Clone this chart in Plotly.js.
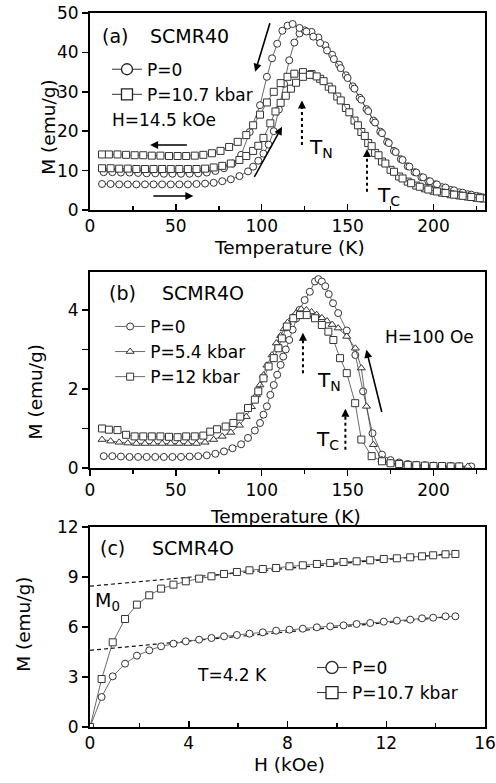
<!DOCTYPE html>
<html>
<head>
<meta charset="utf-8">
<script src="https://cdn.plot.ly/plotly-3.0.1.min.js"></script>
<style>html,body{margin:0;padding:0;background:#fff;}#chart{width:496px;height:783px;}</style>
</head>
<body>
<div id="chart"></div>
<script>
// ---------- Panel (a): SCMR40, H=14.5 kOe ----------
const aP0WarmT = [7,12,17,22,27,32,37,42,47,52,57,62,67,72,77,82,87,92,95,98,101,104,107,110,113,116,119,122,125,129,133,137,141,145,149,153,157,161,165,169,173,177,181,185,189,193,197,201,205,210,215,220,225,229];
const aP0WarmM = [6.6,6.6,6.5,6.5,6.5,6.5,6.5,6.5,6.5,6.5,6.5,6.6,6.7,6.9,7.3,7.8,8.6,9.8,11.0,12.5,14.3,16.6,20.0,25.5,32.0,38.0,42.5,44.8,45.6,45.2,43.8,41.8,39.4,36.9,34.2,31.4,28.5,25.6,22.7,19.9,17.3,15.0,12.9,11.1,9.6,8.3,7.3,6.5,5.8,5.1,4.5,4.0,3.6,3.2];
const aP0CoolT = [8,13,18,23,28,33,38,43,48,53,58,63,68,73,78,83,88,93,99,103,106,109,112,115,118,122,126,130,134,138,142,146,150,154,158,162,166,170,174,178,182,186,190,194,198,202,207,212,217,222,227];
const aP0CoolM = [9.6,9.6,9.5,9.5,9.4,9.3,9.3,9.2,9.2,9.2,9.2,9.3,9.5,9.9,10.6,11.8,14.0,19.8,26.6,33.8,38.5,42.2,45.5,46.8,47.2,46.2,45.3,44.0,42.4,40.5,38.3,36.0,33.5,30.8,28.0,25.1,22.2,19.5,17.0,14.7,12.7,11.0,9.5,8.3,7.3,6.5,5.7,5.0,4.4,3.9,3.4];
const aP107CoolT = [7,11,16,21,26,31,36,41,46,51,56,61,66,71,76,81,86,91,95,99,103,107,111,115,119,124,129,134,139,144,149,154,158,162,166,170,175,180,185,190,195,200,205,210,215,220,225,229];
const aP107CoolM = [14.1,14.1,14.1,14.0,13.9,13.9,13.8,13.8,13.7,13.7,13.7,13.8,14.0,14.4,15.0,16.0,17.3,19.0,21.5,24.2,27.3,30.0,32.2,33.8,34.6,35.0,34.5,33.3,31.3,28.8,25.9,22.7,19.8,17.0,14.5,12.3,10.2,8.5,7.2,6.2,5.5,4.9,4.4,4.0,3.7,3.4,3.1,2.9];
const aP107WarmT = [7,12,17,22,27,32,37,42,47,52,57,62,67,72,77,82,87,91,95,98,101,105,108,111,114,117,120,124,128,132,136,141,146,151,156,160,164,168,172,177,182,187,192,197,202,207,212,217,222,227];
const aP107WarmM = [10.6,10.6,10.5,10.5,10.4,10.4,10.4,10.4,10.4,10.4,10.4,10.4,10.5,10.8,11.2,11.8,12.7,13.7,15.0,16.3,18.3,22.0,25.0,27.2,29.0,30.8,32.3,33.8,34.3,33.9,32.7,30.6,27.8,24.8,21.5,18.8,16.2,13.9,11.8,9.7,8.0,6.8,5.9,5.2,4.7,4.3,3.9,3.6,3.3,3.0];

// ---------- Panel (b): SCMR4O, H=100 Oe ----------
const bP0T = [8,13,18,23,28,33,38,43,48,53,58,63,68,73,78,83,88,92,96,99,101,103,105,107,109,111,112.5,114,116,118,120,122,125,128,131,133,135,137,139,141.5,144.5,149.5,154.5,159,164.5,170,175,180,185,190,195,200,205,210,215,222];
const bP0M = [0.3,0.3,0.29,0.28,0.28,0.28,0.28,0.28,0.28,0.28,0.29,0.3,0.32,0.36,0.42,0.5,0.6,0.76,0.95,1.14,1.35,1.56,1.85,2.1,2.36,2.61,2.82,3.0,3.24,3.5,3.78,4.0,4.25,4.46,4.72,4.78,4.72,4.6,4.4,4.17,3.92,3.48,2.86,1.94,0.88,0.34,0.2,0.14,0.1,0.08,0.07,0.06,0.05,0.05,0.04,0.04];
const bP54T = [7,12,17,22,27,32,37,42,47,52,57,62,67,72,77,82,87,91,94,97,99,101,103,106,108.5,111,113,115,118,120,123,126,129,132,135,138,141,144.5,149.5,154.5,158,161,165,170,175,180,185,190,195,200,205,210,215,220];
const bP54M = [0.72,0.68,0.65,0.63,0.62,0.62,0.62,0.62,0.62,0.62,0.62,0.62,0.65,0.72,0.8,0.9,1.08,1.3,1.55,1.85,2.1,2.35,2.6,2.86,3.16,3.35,3.52,3.68,3.82,3.92,4.02,4.0,3.95,3.88,3.8,3.72,3.63,3.54,3.33,3.03,2.53,1.56,0.59,0.21,0.13,0.1,0.08,0.07,0.06,0.06,0.05,0.05,0.05,0.04];
const bP12T = [7,11,16,21,26,31,36,41,46,51,56,61,66,70,74,79,83.5,87.5,92,96,98,101,104,107,109.7,111.7,114.6,118.4,122.3,126.2,131,135,138.8,141.7,145.6,149.5,154.4,158,164,170,175,180,185,190,195,200,205,210,215];
const bP12M = [1.0,0.97,0.96,0.84,0.8,0.8,0.8,0.8,0.79,0.78,0.8,0.8,0.82,0.92,0.98,1.05,1.14,1.3,1.52,1.73,1.94,2.27,2.57,2.78,3.03,3.28,3.58,3.79,3.87,3.87,3.79,3.62,3.45,3.24,2.78,2.4,1.64,0.72,0.3,0.17,0.12,0.1,0.08,0.07,0.06,0.05,0.05,0.04,0.04];

// ---------- Panel (c): SCMR4O, T=4.2 K ----------
const cH = [0,0.47,0.92,1.42,1.9,2.4,2.88,3.38,3.88,4.42,4.92,5.43,5.95,6.46,7.0,7.54,8.08,8.62,9.19,9.73,10.27,10.8,11.35,11.9,12.43,12.97,13.45,13.9,14.4,14.8];
const cP0M = [0,1.8,3.04,3.8,4.28,4.6,4.84,5.0,5.14,5.24,5.34,5.44,5.52,5.6,5.68,5.78,5.84,5.9,5.98,6.04,6.1,6.18,6.24,6.32,6.38,6.44,6.52,6.56,6.64,6.64];
const cP107M = [0,2.88,5.08,6.48,7.34,7.9,8.3,8.54,8.74,8.9,9.04,9.18,9.3,9.4,9.48,9.54,9.64,9.7,9.78,9.84,9.9,9.94,10.0,10.08,10.12,10.18,10.24,10.3,10.36,10.38];
const cFitH = [0,14.8];
const cFitP0 = [4.6,6.65];
const cFitP107 = [8.45,10.42];

// ---------- styling ----------
const FONT = '"DejaVu Sans", sans-serif';
const LC = '#444';
function series(x, y, sym, size, xa, ya, extra) {
  return Object.assign({
    x: x, y: y, xaxis: xa, yaxis: ya, type: 'scatter', mode: 'lines+markers',
    line: {color: LC, width: 0.8},
    marker: {symbol: sym, size: size, color: '#fff', line: {color: '#333', width: 1}},
    showlegend: false, hoverinfo: 'skip'
  }, extra || {});
}
function legendItem(name, sym, size, leg, grp) {
  return {x: [null], y: [null], type: 'scatter', mode: 'lines+markers', name: name,
    xaxis: leg === 'legend' ? 'x' : 'x3', yaxis: leg === 'legend' ? 'y' : 'y3',
    legend: leg, legendgroup: grp, showlegend: true,
    line: {color: '#333', width: 1},
    marker: {symbol: sym, size: size, color: '#fff', line: {color: '#222', width: 1.3}}};
}

const traces = [
  series(aP0WarmT, aP0WarmM, 'circle', 7, 'x', 'y'),
  series(aP0CoolT, aP0CoolM, 'circle', 7, 'x', 'y'),
  series(aP107CoolT, aP107CoolM, 'square', 7, 'x', 'y'),
  series(aP107WarmT, aP107WarmM, 'square', 7, 'x', 'y'),
  legendItem('P=0', 'circle', 11, 'legend', 'a1'),
  legendItem('P=10.7 kbar', 'square', 11, 'legend', 'a2'),

  series(bP0T, bP0M, 'circle', 7, 'x2', 'y2', {showlegend: true, name: 'P=0', legend: 'legend2', legendgroup: 'b1'}),
  series(bP54T, bP54M, 'triangle-up', 7, 'x2', 'y2', {showlegend: true, name: 'P=5.4 kbar', legend: 'legend2', legendgroup: 'b2'}),
  series(bP12T, bP12M, 'square', 7, 'x2', 'y2', {showlegend: true, name: 'P=12 kbar', legend: 'legend2', legendgroup: 'b3'}),

  {x: cFitH, y: cFitP0, xaxis: 'x3', yaxis: 'y3', type: 'scatter', mode: 'lines', line: {color: '#111', width: 1.2, dash: '4px,3px'}, showlegend: false, hoverinfo: 'skip'},
  {x: cFitH, y: cFitP107, xaxis: 'x3', yaxis: 'y3', type: 'scatter', mode: 'lines', line: {color: '#111', width: 1.2, dash: '4px,3px'}, showlegend: false, hoverinfo: 'skip'},
  series(cH, cP0M, 'circle', 7, 'x3', 'y3'),
  series(cH, cP107M, 'square', 7, 'x3', 'y3'),
  legendItem('P=0', 'circle', 12, 'legend3', 'c1'),
  legendItem('P=10.7 kbar', 'square', 12, 'legend3', 'c2')
];

function xax(anchor, range, dtick, mdtick, tdir) {
  return {anchor: anchor, domain: [0, 1], range: range, dtick: dtick, tick0: 0,
    ticks: tdir, ticklen: 6, tickwidth: 1.5, tickcolor: '#000',
    minor: {dtick: mdtick, tick0: 0, ticks: tdir, ticklen: 4, tickwidth: 1.5, tickcolor: '#000'},
    showline: true, linewidth: 2, linecolor: '#000', mirror: true,
    showgrid: false, zeroline: false, tickfont: {family: FONT, size: 17, color: '#000'}};
}
function yax(anchor, domain, range, dtick, mdtick) {
  const o = {anchor: anchor, domain: domain, range: range, dtick: dtick, tick0: 0,
    ticks: 'outside', ticklen: 6, tickwidth: 1.5, tickcolor: '#000',
    showline: true, linewidth: 2, linecolor: '#000', mirror: true,
    showgrid: false, zeroline: false, tickfont: {family: FONT, size: 17, color: '#000'}};
  if (mdtick) o.minor = {dtick: mdtick, tick0: 0, ticks: 'outside', ticklen: 6, tickwidth: 1.5, tickcolor: '#000'};
  return o;
}

function txt(text, x, y, xref, yref, opts) {
  return Object.assign({text: text, x: x, y: y, xref: xref, yref: yref, showarrow: false,
    xanchor: 'left', yanchor: 'middle', font: {family: FONT, size: 18, color: '#000'}}, opts || {});
}
function arrow(x, y, ax, ay, xref, yref) {
  return {text: '', x: x, y: y, ax: ax, ay: ay, xref: xref, yref: yref, axref: xref, ayref: yref,
    showarrow: true, arrowhead: 2, arrowsize: 1, arrowwidth: 1.6, arrowcolor: '#000'};
}
function dotted(x, y0, y1, xref, yref) {
  return {type: 'line', x0: x, x1: x, y0: y0, y1: y1, xref: xref, yref: yref,
    line: {color: '#000', width: 2, dash: 'dot'}};
}

const annotations = [
  // axis titles
  txt('M (emu/g)', -0.104, 0.838, 'paper', 'paper', {textangle: -90, xanchor: 'center', font: {family: FONT, size: 18.5, color: '#000'}}),
  txt('Temperature (K)', 0.506, 0.6845, 'paper', 'paper', {xanchor: 'center', font: {family: FONT, size: 18.5, color: '#000'}}),
  txt('M (emu/g)', -0.139, 0.499, 'paper', 'paper', {textangle: -90, xanchor: 'center', font: {family: FONT, size: 18.5, color: '#000'}}),
  txt('Temperature (K)', 0.494, 0.340, 'paper', 'paper', {xanchor: 'center', font: {family: FONT, size: 18.5, color: '#000'}}),
  txt('M (emu/g)', -0.167, 0.202, 'paper', 'paper', {textangle: -90, xanchor: 'center', font: {family: FONT, size: 18.5, color: '#000'}}),
  txt('H (kOe)', 0.506, 0.023, 'paper', 'paper', {xanchor: 'center', font: {family: FONT, size: 18.5, color: '#000'}}),

  // panel (a)
  txt('(a)', 5.8, 44.2, 'x', 'y', {font: {family: FONT, size: 19, color: '#000'}}),
  txt('SCMR40', 33.8, 44.2, 'x', 'y', {font: {family: FONT, size: 19, color: '#000'}}),
  txt('H=14.5 kOe', 11.7, 22.8, 'x', 'y', {font: {family: FONT, size: 17, color: '#000'}}),
  txt('T<sub>N</sub>', 126.3, 15.8, 'x', 'y', {font: {family: FONT, size: 20, color: '#000'}}),
  txt('T<sub>C</sub>', 165.8, 3.6, 'x', 'y', {font: {family: FONT, size: 20, color: '#000'}}),
  arrow(96.2, 35.1, 105, 47.8, 'x', 'y'),
  arrow(111.8, 21.1, 95.2, 8, 'x', 'y'),
  arrow(35, 16.5, 57.3, 16.5, 'x', 'y'),
  arrow(60.2, 3.55, 36, 3.55, 'x', 'y'),
  arrow(123.4, 27.8, 123.4, 25.5, 'x', 'y'),
  arrow(161.3, 15.5, 161.3, 13.2, 'x', 'y'),

  // panel (b)
  txt('(b)', 9.9, 4.43, 'x2', 'y2', {font: {family: FONT, size: 19, color: '#000'}}),
  txt('SCMR4O', 40.8, 4.43, 'x2', 'y2', {font: {family: FONT, size: 19, color: '#000'}}),
  txt('H=100 Oe', 170.8, 3.32, 'x2', 'y2', {font: {family: FONT, size: 17, color: '#000'}}),
  txt('T<sub>N</sub>', 131, 2.2, 'x2', 'y2', {font: {family: FONT, size: 20, color: '#000'}}),
  txt('T<sub>C</sub>', 146, 0.72, 'x2', 'y2', {xanchor: 'right', font: {family: FONT, size: 20, color: '#000'}}),
  arrow(160.9, 2.99, 170.1, 1.38, 'x2', 'y2'),
  arrow(124, 3.42, 124, 3.2, 'x2', 'y2'),
  arrow(148.7, 1.5, 148.7, 1.28, 'x2', 'y2'),

  // panel (c)
  txt('(c)', 0.32, 10.74, 'x3', 'y3', {font: {family: FONT, size: 19, color: '#000'}}),
  txt('SCMR4O', 2.43, 10.74, 'x3', 'y3', {font: {family: FONT, size: 19, color: '#000'}}),
  txt('M<sub>0</sub>', 0.12, 7.5, 'x3', 'y3', {font: {family: FONT, size: 19, color: '#000'}}),
  txt('T=4.2 K', 4.25, 3.12, 'x3', 'y3', {font: {family: FONT, size: 17, color: '#000'}})
];

const shapes = [
  dotted(123.4, 16.5, 26, 'x', 'y'),
  dotted(161.3, 4.65, 14, 'x', 'y'),
  dotted(124, 2.4, 3.25, 'x2', 'y2'),
  dotted(148.7, 0.46, 1.32, 'x2', 'y2')
];

function leg(x, y) {
  return {x: x, y: y, xanchor: 'left', yanchor: 'top', bgcolor: 'rgba(0,0,0,0)', borderwidth: 0,
    font: {family: FONT, size: 17, color: '#000'}, tracegroupgap: 4, orientation: 'v', traceorder: 'normal'};
}

const layout = {
  width: 496, height: 783,
  margin: {l: 90, r: 11, t: 0, b: 0},
  paper_bgcolor: '#fff', plot_bgcolor: '#fff',
  font: {family: FONT, color: '#000'},
  xaxis: xax('y', [0, 230], 50, 25, 'inside'),
  yaxis: yax('x', [0.7318, 0.9834], [0, 50], 10),
  xaxis2: xax('y2', [0, 230], 50, 25, 'outside'),
  yaxis2: yax('x2', [0.4023, 0.6526], [0, 4.96], 2, 1),
  xaxis3: xax('y3', [0, 16], 4, 2, 'inside'),
  yaxis3: yax('x3', [0.0715, 0.3270], [0, 12], 3),
  legend: leg(0.043, 0.934),
  legend2: leg(0.051, 0.6055),
  legend3: leg(0.562, 0.170),
  annotations: annotations,
  shapes: shapes,
  showlegend: true
};

Plotly.newPlot('chart', traces, layout, {staticPlot: true, displayModeBar: false});
</script>
</body>
</html>
